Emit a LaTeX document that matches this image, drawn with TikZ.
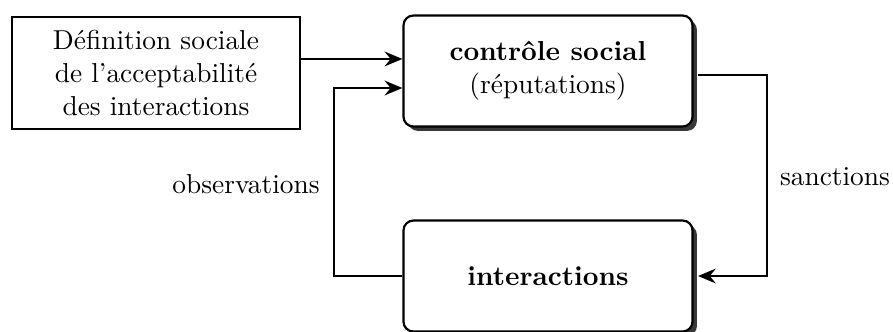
\documentclass[tikz,border=0pt]{standalone}
\usetikzlibrary{arrows.meta,shadows}
\begin{document}
\begin{tikzpicture}[x=0.365pt,y=-0.365pt,
  line width=0.8pt,
  >={Stealth[length=6.5pt,width=5.4pt,inset=2.2pt]},
  plainbox/.style={draw,minimum width=105pt,minimum height=40.9pt,align=center,inner sep=2pt},
  stagebox/.style={draw,fill=white,rounded corners=3.6pt,minimum width=105.5pt,minimum height=40.5pt,align=center,
    drop shadow={shadow xshift=1.6pt,shadow yshift=-1.6pt,fill=black!78,opacity=1}},
  lbl/.style={inner sep=0pt}]
\useasboundingbox (0,0) rectangle (893,331);

\node[plainbox] (def) at (156,73) {D\'efinition sociale\\de l'acceptabilit\'e\\des interactions};
\node[stagebox] (ctrl) at (548,71) {\textbf{contr\^ole social}\\(r\'eputations)};
\node[stagebox] (int) at (548,276) {\textbf{interactions}};

\coordinate (in1) at ([yshift=4.4pt]ctrl.west);
\coordinate (in2) at ([yshift=-6.2pt]ctrl.west);
\coordinate (out) at ([yshift=-1.5pt]ctrl.east);
\coordinate (obsx) at (334,0);
\coordinate (sanx) at (767,0);

% definition feeding social control
\draw[->] (def.east |- in1) -- (in1);
% observations loop
\draw[->] (int.west) -- (obsx |- int.west) -- (obsx |- in2) -- (in2);
% sanctions loop
\draw[->,shorten <=1.6pt,shorten >=1.6pt] (out) -- (sanx |- out) -- (sanx |- int.east) -- (int.east);

\node[lbl] (obs) at (246,184) {observations};
\node[lbl] (san) at (835,177) {sanctions};
\end{tikzpicture}
\end{document}
